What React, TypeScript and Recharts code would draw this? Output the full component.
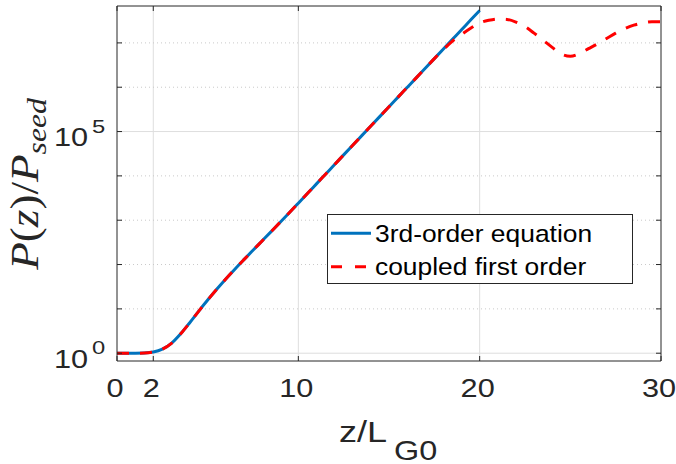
import React from 'react';
import { LineChart, Line, XAxis, YAxis, ReferenceLine, Legend } from 'recharts';

// z / L_G0 sample positions
const zValues = [
  0, 0.5, 1, 1.5, 2, 2.5, 3, 3.5, 4, 4.5, 5, 5.5, 6, 6.5, 7, 7.5, 8, 8.5, 9, 9.5,
  10, 10.5, 11, 11.5, 12, 12.5, 13, 13.5, 14, 14.5, 15, 15.5, 16, 16.5, 17, 17.5,
  18, 18.5, 19, 19.5, 20, 20.5, 21, 21.5, 22, 22.5, 23, 23.5, 24, 24.5, 25, 25.5,
  26, 26.5, 27, 27.5, 28, 28.5, 29, 29.5, 30,
];

// P(z)/Pseed, 3rd-order equation (z = 0 .. 20)
const thirdOrder = [
  1, 1.0, 1.001, 1.01, 1.06, 1.23, 1.67, 2.71, 4.81, 8.79, 15.8, 27.7, 47.3, 78.7,
  129, 210, 341, 554, 902, 1475, 2425, 3995, 6600, 10900, 18000, 29800, 49200,
  81000, 133600, 220300, 363200, 598900, 987300, 1.628e6, 2.684e6, 4.425e6,
  7.296e6, 1.203e7, 1.983e7, 3.27e7, 5.39e7,
];

// P(z)/Pseed, coupled first-order equations (z = 0 .. 30)
const coupledFirstOrder = [
  1, 1.0, 1.001, 1.01, 1.06, 1.23, 1.67, 2.71, 4.81, 8.79, 15.8, 27.7, 47.3, 78.7,
  129, 210, 341, 554, 902, 1475, 2425, 3995, 6600, 10900, 18000, 29800, 49200,
  81000, 133600, 220300, 363200, 598900, 987300, 1.628e6, 2.684e6, 4.425e6,
  7.1e6, 1.1e7, 1.55e7, 2.14e7, 2.82e7, 3.24e7, 3.47e7, 3.39e7, 2.95e7, 2.34e7,
  1.66e7, 1.15e7, 7.94e6, 5.62e6, 5.01e6, 5.75e6, 7.41e6, 9.55e6, 1.26e7, 1.66e7,
  2.09e7, 2.51e7, 2.82e7, 2.99e7, 2.99e7,
];

const xTicks = [0, 2, 10, 20, 30];
const xGrid = [2, 10, 20];
const yTicks = [1, 10, 100, 1e3, 1e4, 1e5, 1e6, 1e7];
const yLabeled = [1, 1e5];
const yLabelExp: Record<number, string> = { 1: '0', 100000: '5' };
const yMajorGrid = [1, 1e5];
const yMinorGrid = [10, 100, 1e3, 1e4, 1e6, 1e7];
const xDomain = [0, 30];
const yDomain = [0.667, 6.8e7];

const seriesNames = ['3rd-order equation', 'coupled first order'];

const data = zValues.map((z, i) => ({
  z,
  third: i < thirdOrder.length ? thirdOrder[i] : null,
  coupled: coupledFirstOrder[i],
}));

const BLUE = '#0072BD';
const RED = '#FF0000';
const AX = '#262626';
const FONT = '"Liberation Sans", Arial, Helvetica, sans-serif';

const BottomTick = (props: any) => {
  const { x, y, payload } = props;
  return (
    <g>
      <line x1={x} y1={y} x2={x} y2={y - 5} stroke={AX} strokeWidth={1} />
      <text
        transform={`translate(${x - 2},${y + 35.7}) scale(1.18,1)`}
        textAnchor="middle"
        fontFamily={FONT}
        fontSize={26}
        fill={AX}
      >
        {payload.value}
      </text>
    </g>
  );
};

const TopTick = (props: any) => {
  const { x, y } = props;
  return <line x1={x} y1={y} x2={x} y2={y + 5} stroke={AX} strokeWidth={1} />;
};

const LeftTick = (props: any) => {
  const { x, y, payload } = props;
  const v = payload.value;
  const labeled = yLabeled.some((t) => Math.abs(t - v) / t < 1e-6);
  const exp = labeled ? yLabelExp[Math.round(v)] : '';
  return (
    <g>
      <line x1={x} y1={y} x2={x + 5} y2={y} stroke={AX} strokeWidth={1} />
      {labeled && (
        <g>
          <text
            transform={`translate(${x - 29},${y + 14.5}) scale(1.18,1)`}
            textAnchor="end"
            fontFamily={FONT}
            fontSize={26}
            fill={AX}
          >
            10
          </text>
          <text
            transform={`translate(${x - 25},${y + 1}) scale(1.25,1)`}
            textAnchor="start"
            fontFamily={FONT}
            fontSize={19}
            fill={AX}
          >
            {exp}
          </text>
        </g>
      )}
    </g>
  );
};

const RightTick = (props: any) => {
  const { x, y } = props;
  return <line x1={x} y1={y} x2={x - 5} y2={y} stroke={AX} strokeWidth={1} />;
};

const XLabel = (props: any) => {
  const vb = props.viewBox || { x: 117, y: 361, width: 544, height: 40 };
  const cx = vb.x + vb.width / 2;
  const top = vb.y;
  return (
    <g>
      <text
        transform={`translate(${cx - 50},${top + 80.7}) scale(1.2,1)`}
        fontFamily={FONT}
        fontSize={30}
        fill={AX}
      >
        z/L
      </text>
      <text
        transform={`translate(${cx + 5},${top + 99}) scale(1.2,1)`}
        fontFamily={FONT}
        fontSize={27}
        fill={AX}
      >
        G0
      </text>
    </g>
  );
};

const YLabel = (props: any) => {
  const vb = props.viewBox || { x: 57, y: 6, width: 60, height: 355 };
  const cy = vb.y + vb.height / 2 + 0.5;
  return (
    <text
      transform={`translate(38,${cy}) rotate(-90) scale(1.13,1)`}
      textAnchor="middle"
      fontFamily='"Liberation Serif", "Times New Roman", serif'
      fontSize={40}
      fill={AX}
    >
      <tspan fontStyle="italic">P</tspan>
      <tspan>(</tspan>
      <tspan fontStyle="italic">z</tspan>
      <tspan>)/</tspan>
      <tspan fontStyle="italic">P</tspan>
      <tspan fontStyle="italic" fontSize={28} dy={8}>
        seed
      </tspan>
    </text>
  );
};

const LegendBox = () => (
  <svg width={307} height={71} style={{ display: 'block' }}>
    <rect x={0.5} y={0.5} width={305} height={69} fill="#ffffff" stroke={AX} strokeWidth={1} />
    <line x1={4} y1={19.3} x2={44} y2={19.3} stroke={BLUE} strokeWidth={3} />
    <text
      transform="translate(48,27.7) scale(1.1,1)"
      fontFamily={FONT}
      fontSize={24}
      fill="#000"
    >
      {seriesNames[0]}
    </text>
    <line
      x1={4}
      y1={52.7}
      x2={44}
      y2={52.7}
      stroke={RED}
      strokeWidth={3}
      strokeDasharray="11 13"
    />
    <text
      transform="translate(48,61) scale(1.1,1)"
      fontFamily={FONT}
      fontSize={24}
      fill="#000"
    >
      {seriesNames[1]}
    </text>
  </svg>
);

export default function App() {
  return (
    <div style={{ position: 'absolute', left: 0, top: 0, width: 676, height: 464, background: '#fff' }}>
      <LineChart
        width={676}
        height={464}
        data={data}
        margin={{ top: 0, right: 5, bottom: 63, left: 57 }}
      >
        <XAxis
          dataKey="z"
          type="number"
          domain={xDomain}
          ticks={xTicks}
          interval={0}
          allowDataOverflow
          height={40}
          tickSize={0}
          tickMargin={0}
          tickLine={false}
          axisLine={{ stroke: AX, strokeWidth: 1 }}
          tick={(p: any) => <BottomTick {...p} />}
          label={{ content: (p: any) => <XLabel {...p} /> }}
        />
        <XAxis
          xAxisId="top"
          orientation="top"
          dataKey="z"
          type="number"
          domain={xDomain}
          ticks={xTicks}
          interval={0}
          allowDataOverflow
          height={6}
          tickSize={0}
          tickMargin={0}
          tickLine={false}
          axisLine={{ stroke: AX, strokeWidth: 1 }}
          tick={(p: any) => <TopTick {...p} />}
        />
        <YAxis
          type="number"
          scale="log"
          domain={yDomain}
          ticks={yTicks}
          interval={0}
          allowDataOverflow
          width={60}
          tickSize={0}
          tickMargin={0}
          tickLine={false}
          axisLine={{ stroke: AX, strokeWidth: 1 }}
          tick={(p: any) => <LeftTick {...p} />}
          label={{ content: (p: any) => <YLabel {...p} /> }}
        />
        <YAxis
          yAxisId="right"
          orientation="right"
          type="number"
          scale="log"
          domain={yDomain}
          ticks={yTicks}
          interval={0}
          allowDataOverflow
          width={10}
          tickSize={0}
          tickMargin={0}
          tickLine={false}
          axisLine={{ stroke: AX, strokeWidth: 1 }}
          tick={(p: any) => <RightTick {...p} />}
        />
        {xGrid.map((v) => (
          <ReferenceLine key={`xg${v}`} x={v} stroke="#dedede" strokeWidth={1} />
        ))}
        {yMajorGrid.map((v) => (
          <ReferenceLine key={`yg${v}`} y={v} stroke="#dedede" strokeWidth={1} />
        ))}
        {yMinorGrid.map((v) => (
          <ReferenceLine key={`ym${v}`} y={v} stroke="#c9c9c9" strokeWidth={1} strokeDasharray="1 3" />
        ))}
        <Line
          type="monotone"
          dataKey="third"
          name={seriesNames[0]}
          stroke={BLUE}
          strokeWidth={3}
          dot={false}
          activeDot={false}
          isAnimationActive={false}
        />
        <Line
          type="monotone"
          dataKey="coupled"
          name={seriesNames[1]}
          stroke={RED}
          strokeWidth={3}
          strokeDasharray="12 11"
          dot={false}
          activeDot={false}
          isAnimationActive={false}
        />
        <Legend
          layout="horizontal"
          verticalAlign="middle"
          align="center"
          wrapperStyle={{ left: 327, top: 214, width: 307, height: 71 }}
          content={() => <LegendBox />}
        />
      </LineChart>
    </div>
  );
}
